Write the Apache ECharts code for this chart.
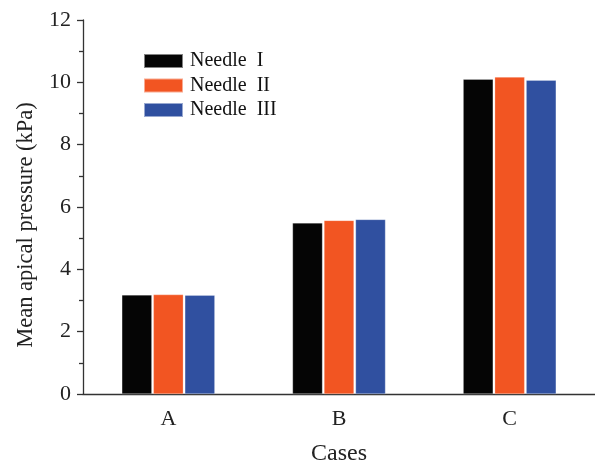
<!DOCTYPE html>
<html><head><meta charset="utf-8">
<script src="https://cdn.jsdelivr.net/npm/echarts@6/dist/echarts.min.js"></script>
<style>html,body{margin:0;padding:0;background:#fff}#c{width:595px;height:471px}</style>
</head><body><div id="c"></div>
<script>
var categories = ['A', 'B', 'C'];
var seriesNames = ['Needle  I', 'Needle  II', 'Needle  III'];
var needle1 = [3.18, 5.49, 10.10];
var needle2 = [3.19, 5.57, 10.17];
var needle3 = [3.17, 5.60, 10.07];
var yTicks = [0, 2, 4, 6, 8, 10, 12];
var colors = ['#050505', '#F25522', '#3050A0'];
var FONT = '"Liberation Serif", "Times New Roman", serif';
var chart = echarts.init(document.getElementById('c'));
var vals = [needle1, needle2, needle3];
chart.setOption({
  animation: false,
  textStyle: {fontFamily: FONT},
  grid: {left: 83, top: 20, width: 512, height: 380, containLabel: false},
  legend: {
    left: 143, top: 51, orient: 'vertical', icon: 'rect', padding: 0,
    itemWidth: 39, itemHeight: 14, itemGap: 4.5,
    textStyle: {fontFamily: FONT, fontSize: 20, color: '#111', padding: [0, 0, 0, 2]},
    data: seriesNames
  },
  xAxis: [{
    type: 'category', data: categories,
    name: 'Cases', nameLocation: 'middle', nameGap: 48,
    nameTextStyle: {fontFamily: FONT, fontSize: 24, color: '#222'},
    axisLine: {lineStyle: {color: '#333', width: 1.3}},
    axisTick: {alignWithLabel: true, length: 6, lineStyle: {color: '#333', width: 1.3}},
    axisLabel: {fontFamily: FONT, fontSize: 22, color: '#222', margin: 14}
  }, {
    type: 'category', data: categories, position: 'bottom',
    axisLine: {show: false},
    axisTick: {alignWithLabel: false, length: 4, lineStyle: {color: '#333', width: 1.3}},
    axisLabel: {show: false}
  }],
  yAxis: {
    type: 'value', min: 0, max: 12, interval: 2,
    name: 'Mean apical pressure (kPa)', nameLocation: 'middle', nameGap: 45,
    nameTextStyle: {fontFamily: FONT, fontSize: 22.5, color: '#222', padding: [0, 0, 0, -36]},
    axisLine: {show: true, lineStyle: {color: '#333', width: 1.3}},
    axisTick: {show: true, length: 6, lineStyle: {color: '#333', width: 1.3}},
    minorTick: {show: true, splitNumber: 2, length: 4, lineStyle: {color: '#333', width: 1.3}},
    splitLine: {show: false},
    axisLabel: {fontFamily: FONT, fontSize: 22, color: '#222', margin: 12,
      formatter: function (v) { return yTicks.indexOf(v) >= 0 ? String(v) : ''; }}
  },
  series: seriesNames.map(function (n, i) {
    return {
      name: n, type: 'bar', data: vals[i], barWidth: 30, barGap: '5%',
      itemStyle: {color: colors[i], borderColor: 'rgba(255,255,255,0.5)', borderWidth: 0.5}
    };
  })
});
</script></body></html>
